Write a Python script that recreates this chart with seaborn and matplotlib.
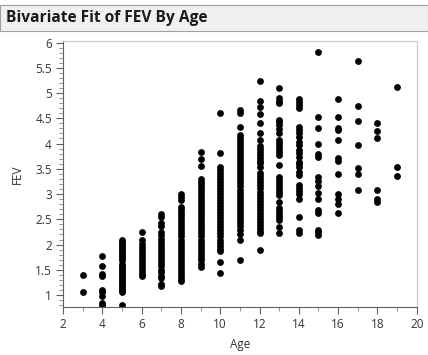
import matplotlib
matplotlib.use("Agg")
import matplotlib.pyplot as plt
import seaborn as sns
import pandas as pd
from matplotlib.ticker import MultipleLocator, FuncFormatter
from matplotlib.patches import Rectangle

# FEV values read per age column (top to bottom)
fev_3 = [1.40, 1.07]
fev_4 = [1.77, 1.57, 1.41, 1.37, 1.11, 1.06, 0.99, 0.84, 0.80]
fev_5 = [2.10, 2.06, 2.02, 1.98, 1.94, 1.90, 1.86, 1.82, 1.78, 1.74, 1.70,
         1.62, 1.58, 1.54, 1.50, 1.46, 1.42, 1.38, 1.34, 1.30, 1.26, 1.22,
         1.18, 1.14, 1.10, 1.07, 0.80]
fev_6 = [2.25, 2.10, 2.02, 1.96, 1.90, 1.84, 1.78, 1.72, 1.66, 1.60, 1.54,
         1.48, 1.42, 1.38]
fev_7 = [2.60, 2.55, 2.42, 2.36, 2.24, 2.18, 2.12, 2.06, 2.00, 1.94, 1.88,
         1.82, 1.76, 1.70, 1.64, 1.58, 1.50, 1.45, 1.38, 1.33, 1.22, 1.17]
fev_8 = [3.00, 2.95, 2.88, 2.75, 2.70, 2.64, 2.58, 2.52, 2.46, 2.40, 2.34,
         2.28, 2.22, 2.16, 2.10, 2.04, 1.98, 1.92, 1.86, 1.80, 1.74, 1.68,
         1.62, 1.56, 1.50, 1.44, 1.38, 1.32, 1.28]
fev_9 = [3.84, 3.70, 3.56, 3.30, 3.24, 3.18, 3.12, 3.06, 3.00, 2.94, 2.88,
         2.82, 2.76, 2.70, 2.64, 2.58, 2.52, 2.46, 2.40, 2.34, 2.28, 2.22,
         2.16, 2.10, 2.04, 1.98, 1.92, 1.86, 1.80, 1.74, 1.70, 1.62, 1.56]
fev_10 = [4.61, 3.81, 3.54, 3.48, 3.42, 3.36, 3.30, 3.24, 3.18, 3.12, 3.06,
          3.00, 2.94, 2.88, 2.82, 2.76, 2.70, 2.64, 2.58, 2.52, 2.46, 2.40,
          2.34, 2.28, 2.22, 2.16, 2.10, 2.04, 1.98, 1.92, 1.87, 1.66, 1.44]
fev_11 = [4.66, 4.61, 4.32, 4.17, 4.11, 4.05, 3.99, 3.93, 3.87, 3.81, 3.75,
          3.69, 3.63, 3.57, 3.51, 3.45, 3.39, 3.33, 3.27, 3.21, 3.15, 3.09,
          3.03, 2.97, 2.91, 2.85, 2.79, 2.73, 2.67, 2.61, 2.55, 2.49, 2.43,
          2.37, 2.29, 2.20, 2.10, 1.69]
fev_12 = [5.24, 4.85, 4.72, 4.58, 4.40, 4.21, 4.08, 3.95, 3.89, 3.83, 3.77,
          3.71, 3.65, 3.61, 3.53, 3.41, 3.35, 3.29, 3.23, 3.17, 3.11, 3.05,
          2.99, 2.93, 2.87, 2.81, 2.75, 2.69, 2.63, 2.57, 2.51, 2.45, 2.39,
          2.33, 2.27, 2.22, 1.90]
fev_13 = [5.10, 4.91, 4.85, 4.80, 4.47, 4.42, 4.37, 4.28, 4.21, 4.07, 4.01,
          3.95, 3.89, 3.83, 3.77, 3.57, 3.34, 3.28, 3.22, 3.16, 3.10, 3.04,
          2.98, 2.85, 2.72, 2.66, 2.60, 2.54, 2.49, 2.35, 2.22]
fev_14 = [4.88, 4.82, 4.76, 4.70, 4.33, 4.27, 4.20, 4.13, 4.04, 3.97, 3.87,
          3.81, 3.74, 3.64, 3.59, 3.54, 3.44, 3.38, 3.18, 3.12, 3.06, 3.01,
          2.91, 2.55, 2.29, 2.23]
fev_15 = [5.82, 4.52, 4.30, 3.99, 3.79, 3.73, 3.34, 3.25, 3.15, 3.03, 2.90,
          2.68, 2.63, 2.29, 2.24, 2.19]
fev_16 = [4.88, 4.52, 4.30, 4.26, 4.08, 3.71, 3.66, 3.40, 3.00, 2.90, 2.80,
          2.62]
fev_17 = [5.64, 4.74, 4.44, 3.97, 3.52, 3.40, 3.09]
fev_18 = [4.41, 4.24, 4.11, 3.09, 2.91, 2.84]
fev_19 = [5.12, 3.54, 3.36]

columns = {3: fev_3, 4: fev_4, 5: fev_5, 6: fev_6, 7: fev_7, 8: fev_8,
           9: fev_9, 10: fev_10, 11: fev_11, 12: fev_12, 13: fev_13,
           14: fev_14, 15: fev_15, 16: fev_16, 17: fev_17, 18: fev_18,
           19: fev_19}

rows = [(age, v) for age, vals in columns.items() for v in vals]
df = pd.DataFrame(rows, columns=["Age", "FEV"])

title = "Bivariate Fit of FEV By Age"
x_label = "Age"
y_label = "FEV"

sns.set_theme(style="white")
plt.rcParams["font.family"] = ["Open Sans", "DejaVu Sans"]

fig = plt.figure(figsize=(4.28, 3.55), dpi=100)
fig.patch.set_facecolor("white")

# title bar
fig.patches.append(Rectangle((0.0, 1 - 31 / 355), 1.0, 26 / 355,
                             transform=fig.transFigure, facecolor="#f0f0f0",
                             edgecolor="#a0a0a0", linewidth=0.8, zorder=0))
fig.text(6 / 428, 1 - 18 / 355, title, fontsize=11.2, fontweight="bold",
         va="center", ha="left", color="#1a1a1a")

ax = fig.add_axes([63 / 428, 1 - 306.7 / 355, (416.7 - 63) / 428,
                   (306.7 - 41) / 355])
sns.scatterplot(data=df, x="Age", y="FEV", ax=ax, color="black", s=24,
                linewidth=0, legend=False)

ax.set_xlim(2, 20)
ax.set_ylim(0.77, 6.03)
ax.xaxis.set_major_locator(MultipleLocator(2))
ax.xaxis.set_minor_locator(MultipleLocator(1))
ax.yaxis.set_major_locator(MultipleLocator(0.5))
ax.yaxis.set_minor_locator(MultipleLocator(0.1))
ax.yaxis.set_major_formatter(FuncFormatter(lambda v, p: f"{v:g}"))
ax.tick_params(axis="both", which="major", direction="out", length=5,
               width=0.8, color="#606060", labelsize=8.5, labelcolor="#333333",
               bottom=True, left=True, pad=3)
ax.tick_params(axis="x", which="major", pad=3)
ax.tick_params(axis="both", which="minor", direction="out", length=3,
               width=0.6, color="#808080", bottom=True, left=True)

for side in ["left", "bottom"]:
    ax.spines[side].set_color("#606060")
    ax.spines[side].set_linewidth(0.8)
for side in ["top", "right"]:
    ax.spines[side].set_color("#c8c8c8")
    ax.spines[side].set_linewidth(0.8)

ax.set_xlabel(x_label, fontsize=8.5, color="#333333", labelpad=5)
ax.set_ylabel(y_label, fontsize=8.5, color="#333333", labelpad=8)

fig.savefig("out.png", dpi=100)
